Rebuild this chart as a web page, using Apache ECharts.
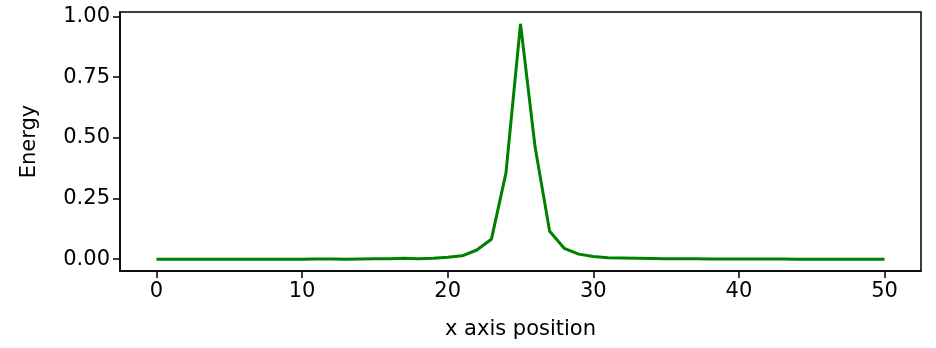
<!DOCTYPE html>
<html><head><meta charset="utf-8">
<script src="https://cdn.jsdelivr.net/npm/echarts@6/dist/echarts.min.js"></script>
<style>html,body{margin:0;padding:0;background:#fff}#c{width:936px;height:348px}</style>
</head><body><div id="c"></div>
<script>
const xValues = [0,1,2,3,4,5,6,7,8,9,10,11,12,13,14,15,16,17,18,19,20,21,22,23,24,25,26,27,28,29,30,31,32,33,34,35,36,37,38,39,40,41,42,43,44,45,46,47,48,49,50];
const energy = [0.000,0.000,0.000,0.000,0.000,0.000,0.000,0.000,0.000,0.000,0.000,0.001,0.001,0.000,0.001,0.002,0.002,0.004,0.002,0.004,0.008,0.014,0.038,0.082,0.355,0.970,0.463,0.115,0.045,0.021,0.011,0.006,0.005,0.004,0.003,0.002,0.002,0.002,0.001,0.001,0.001,0.001,0.001,0.001,0.000,0.000,0.000,0.000,0.000,0.000,0.000];
const xTicks = [0,10,20,30,40,50];
const yTicks = [0,0.25,0.5,0.75,1.0];
const xLabel = 'x axis position';
const yLabel = 'Energy';

const font = 'DejaVu Sans';
const chart = echarts.init(document.getElementById('c'), null, {renderer:'canvas'});
chart.setOption({
  animation:false,
  grid:{left:120,right:15,top:12,bottom:77,show:true,borderColor:'#000',borderWidth:1.5,backgroundColor:'transparent'},
  xAxis:{type:'value',min:-2.5,max:52.5,
    name:xLabel,nameLocation:'middle',nameGap:48,
    nameTextStyle:{fontFamily:font,fontSize:21,color:'#000'},
    axisLine:{show:true,onZero:false,lineStyle:{color:'#000',width:1.5}},
    axisTick:{show:true,length:7,customValues:xTicks,lineStyle:{color:'#000',width:1.5}},
    axisLabel:{customValues:xTicks,fontFamily:font,fontSize:21,color:'#000',margin:10},
    splitLine:{show:false}},
  yAxis:{type:'value',min:-0.0485,max:1.0185,
    name:yLabel,nameLocation:'middle',nameGap:80,nameRotate:90,
    nameTextStyle:{fontFamily:font,fontSize:21,color:'#000'},
    axisLine:{show:true,onZero:false,lineStyle:{color:'#000',width:1.5}},
    axisTick:{show:true,length:7,customValues:yTicks,lineStyle:{color:'#000',width:1.5}},
    axisLabel:{customValues:yTicks,fontFamily:font,fontSize:21,color:'#000',margin:10,
      formatter:v=>v.toFixed(2)},
    splitLine:{show:false}},
  series:[{type:'line',data:xValues.map((x,i)=>[x,energy[i]]),showSymbol:false,
    lineStyle:{color:'#008000',width:3},itemStyle:{color:'#008000'}}]
});
</script></body></html>
